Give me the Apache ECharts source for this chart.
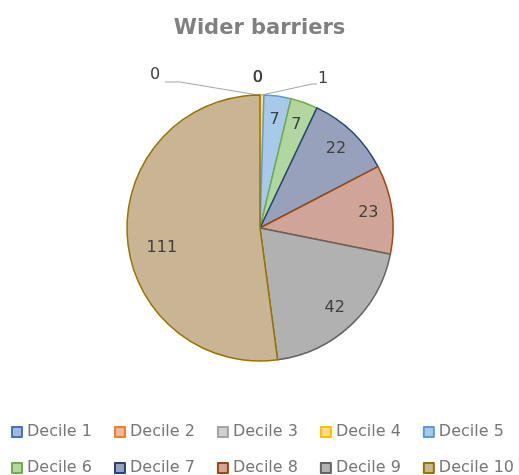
<!DOCTYPE html>
<html>
<head>
<meta charset="utf-8">
<script src="https://cdn.jsdelivr.net/npm/echarts@6/dist/echarts.min.js"></script>
<style>
  html, body { margin: 0; padding: 0; background: #fff; }
  #chart { width: 519px; height: 475px; }
</style>
</head>
<body>
<div id="chart"></div>
<script>
var deciles = ['Decile 1', 'Decile 2', 'Decile 3', 'Decile 4', 'Decile 5',
               'Decile 6', 'Decile 7', 'Decile 8', 'Decile 9', 'Decile 10'];
var counts = [0, 0, 0, 1, 7, 7, 22, 23, 42, 111];
var fills = ['#A3B8E1', '#F5B894', '#D0D0D0', '#FFDC80', '#A9C9EB',
             '#B2D6A0', '#97A1BB', '#D0A598', '#B1B1B1', '#C9B494'];
var borders = ['#4472C4', '#ED7D31', '#A5A5A5', '#FFC000', '#5B9BD5',
               '#70AD47', '#264478', '#9E480E', '#636363', '#997300'];

var chartTitle = 'Wider barriers';

var cx = 260, cy = 228, r = 133;
var fontName = 'DejaVu Sans';

var pieChart = echarts.init(document.getElementById('chart'));

var pieData = [];
var labelData = [];
for (var i = 0; i < deciles.length; i++) {
    var small = counts[i] < 2;
    pieData.push({
        name: deciles[i],
        value: counts[i],
        itemStyle: { color: fills[i], borderColor: borders[i] },
        label: { show: small },
        labelLine: { show: (i == 0 || i == 3) }
    });
    labelData.push({
        name: deciles[i],
        value: counts[i],
        label: { show: !small }
    });
}

// where the tiny slices put their labels, relative to the top of the pie
function smallLabel(params) {
    var top = [cx, cy - r];
    var idx = params.dataIndex;
    if (idx == 0) {
        return {
            x: top[0] - 105, y: top[1] - 20, align: 'center', verticalAlign: 'middle',
            labelLinePoints: [[top[0] - 95, top[1] - 13], [top[0] - 80, top[1] - 13], [top[0] - 2, top[1]]]
        };
    }
    if (idx == 3) {
        return {
            x: top[0] + 63, y: top[1] - 16, align: 'center', verticalAlign: 'middle',
            labelLinePoints: [[top[0] + 2, top[1]], [top[0] + 52, top[1] - 11], [top[0] + 57, top[1] - 11]]
        };
    }
    return {
        x: top[0] - 3 + idx * 0.6, y: top[1] - 17, align: 'center', verticalAlign: 'middle'
    };
}

// the big slice's number sits a little lower than the mid angle
function bigLabel(params) {
    if (params.dataIndex == 9) {
        return { dx: 11, dy: 13 };
    }
    return {};
}

var legendText = { fontFamily: fontName, fontSize: 16, color: '#767676' };

var option = {
    backgroundColor: '#ffffff',
    animation: false,
    title: {
        text: chartTitle,
        left: 'center',
        top: 13,
        textStyle: { fontFamily: fontName, fontSize: 21, fontWeight: 'bold', color: '#808080' }
    },
    legend: [
        {
            data: deciles.slice(0, 5),
            left: 6, top: 419,
            icon: 'rect', itemWidth: 10, itemHeight: 10, itemGap: 22,
            textStyle: legendText
        },
        {
            data: deciles.slice(5),
            left: 6, top: 455,
            icon: 'rect', itemWidth: 10, itemHeight: 10, itemGap: 22,
            textStyle: legendText
        }
    ],
    series: [
        {
            type: 'pie',
            center: [cx, cy],
            radius: [0, r],
            startAngle: 90,
            clockwise: true,
            avoidLabelOverlap: false,
            minShowLabelAngle: 0,
            itemStyle: { borderWidth: 1.5 },
            label: {
                position: 'outside',
                formatter: '{c}',
                fontFamily: fontName, fontSize: 16, color: '#404040'
            },
            labelLine: {
                show: true, length: 10, length2: 10,
                lineStyle: { color: '#A6A6A6', width: 1.2 }
            },
            labelLayout: smallLabel,
            emphasis: { disabled: true },
            data: pieData
        },
        {
            // label-only ring so the numbers sit at about 0.8 of the radius
            type: 'pie',
            center: [cx, cy],
            radius: [0, r * 1.6],
            startAngle: 90,
            clockwise: true,
            silent: true,
            itemStyle: { color: 'rgba(0,0,0,0)', borderWidth: 0 },
            label: {
                position: 'inside',
                formatter: '{c}',
                fontFamily: fontName, fontSize: 16, color: '#404040'
            },
            labelLine: { show: false },
            labelLayout: bigLabel,
            emphasis: { disabled: true },
            data: labelData
        }
    ]
};

pieChart.setOption(option);
window.onresize = function(){
    pieChart.resize();
};
</script>
</body>
</html>
